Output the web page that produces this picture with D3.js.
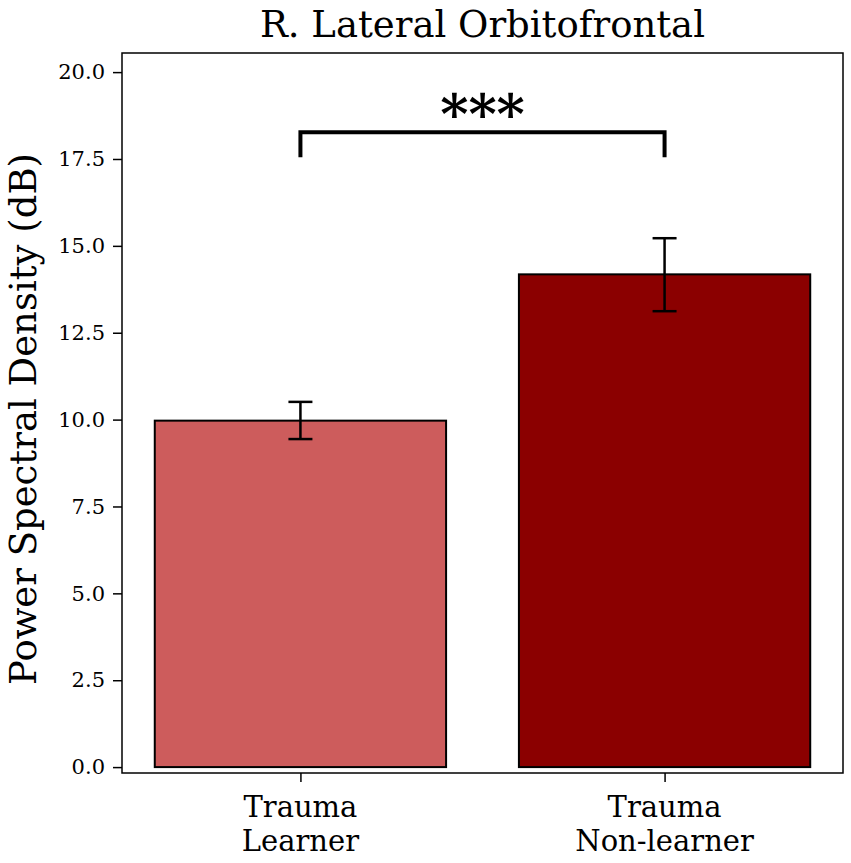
<!DOCTYPE html>
<html>
<head>
<meta charset="utf-8">
<script src="https://cdn.jsdelivr.net/npm/d3@7"></script>
<style>
  body { margin: 0; background: #fff; }
  text { font-family: "DejaVu Serif", serif; }
</style>
</head>
<body>
<svg id="chart"></svg>
<script>
// Data
var groups = ['Trauma\nLearner', 'Trauma\nNon-learner'];
var means = [9.97, 14.18];
var errLow = [9.44, 13.12];
var errHigh = [10.51, 15.22];
var barColors = ['#cd5c5c', '#8b0000'];
var yTicks = [0, 2.5, 5, 7.5, 10, 12.5, 15, 17.5, 20];
var sigBar = { from: 0, to: 1, y: 18.27, drop: 17.55, label: '***' };

var width = 851, height = 863;
var frame = { left: 122, right: 843, top: 53, bottom: 773 };

var svg = d3.select('#chart')
  .attr('width', width)
  .attr('height', height);

var x = d3.scaleLinear()
  .domain([-0.49, 1.49])
  .range([frame.left, frame.right]);

var y = d3.scaleLinear()
  .domain([-0.17, 20.55])
  .range([frame.bottom, frame.top]);

var barW = x(0.8) - x(0);

// Bars
svg.append('g')
  .selectAll('rect')
  .data(means)
  .enter()
  .append('rect')
  .attr('x', function(d, i) { return x(i) - barW / 2; })
  .attr('y', function(d) { return y(d); })
  .attr('width', barW)
  .attr('height', function(d) { return y(0) - y(d); })
  .attr('fill', function(d, i) { return barColors[i]; })
  .attr('stroke', '#000')
  .attr('stroke-width', 2);

// Error bars
var err = svg.append('g')
  .attr('stroke', '#000')
  .attr('stroke-width', 2.5);
means.forEach(function(d, i) {
  err.append('line')
    .attr('x1', x(i)).attr('x2', x(i))
    .attr('y1', y(errLow[i])).attr('y2', y(errHigh[i]));
  [errLow[i], errHigh[i]].forEach(function(v) {
    err.append('line')
      .attr('x1', x(i) - 12).attr('x2', x(i) + 12)
      .attr('y1', y(v)).attr('y2', y(v));
  });
});

// Frame
svg.append('rect')
  .attr('x', frame.left)
  .attr('y', frame.top)
  .attr('width', frame.right - frame.left)
  .attr('height', frame.bottom - frame.top)
  .attr('fill', 'none')
  .attr('stroke', '#000')
  .attr('stroke-width', 1.5);

// Y axis
var yAxis = svg.append('g')
  .attr('transform', 'translate(' + frame.left + ',0)')
  .call(d3.axisLeft(y).tickValues(yTicks).tickFormat(d3.format('.1f')).tickSize(9).tickPadding(8));
yAxis.select('.domain').remove();
yAxis.selectAll('line').attr('stroke-width', 1.5);
yAxis.selectAll('text')
  .attr('font-family', '"DejaVu Serif", serif')
  .attr('font-size', 21)
  .attr('fill', '#000');

// X axis
var xAxis = svg.append('g')
  .attr('transform', 'translate(0,' + frame.bottom + ')')
  .call(d3.axisBottom(x).tickValues([0, 1]).tickFormat('').tickSize(9));
xAxis.select('.domain').remove();
xAxis.selectAll('line').attr('stroke-width', 1.5);

var xLabels = svg.append('g')
  .selectAll('text')
  .data(groups)
  .enter()
  .append('text')
  .attr('x', function(d, i) { return x(i); })
  .attr('y', 817)
  .attr('text-anchor', 'middle')
  .attr('font-size', 29)
  .attr('fill', '#000');
xLabels.each(function(d) {
  var t = d3.select(this);
  d.split('\n').forEach(function(line, j) {
    t.append('tspan')
      .attr('x', t.attr('x'))
      .attr('dy', j === 0 ? 0 : 34)
      .text(line);
  });
});

// Significance bracket
svg.append('path')
  .attr('d', 'M' + x(sigBar.from) + ',' + y(sigBar.drop) +
    'V' + y(sigBar.y) + 'H' + x(sigBar.to) + 'V' + y(sigBar.drop))
  .attr('fill', 'none')
  .attr('stroke', '#000')
  .attr('stroke-width', 4);

svg.append('text')
  .attr('x', (x(sigBar.from) + x(sigBar.to)) / 2)
  .attr('y', y(sigBar.y) + 1)
  .attr('text-anchor', 'middle')
  .attr('font-size', 54)
  .attr('font-weight', 'bold')
  .text(sigBar.label);

// Title
svg.append('text')
  .attr('x', (frame.left + frame.right) / 2)
  .attr('y', 37)
  .attr('text-anchor', 'middle')
  .attr('font-size', 37)
  .text('R. Lateral Orbitofrontal');

// Y label
svg.append('text')
  .attr('transform', 'translate(36,' + ((frame.top + frame.bottom) / 2 + 6) + ') rotate(-90)')
  .attr('text-anchor', 'middle')
  .attr('font-size', 37)
  .text('Power Spectral Density (dB)');
</script>
</body>
</html>
